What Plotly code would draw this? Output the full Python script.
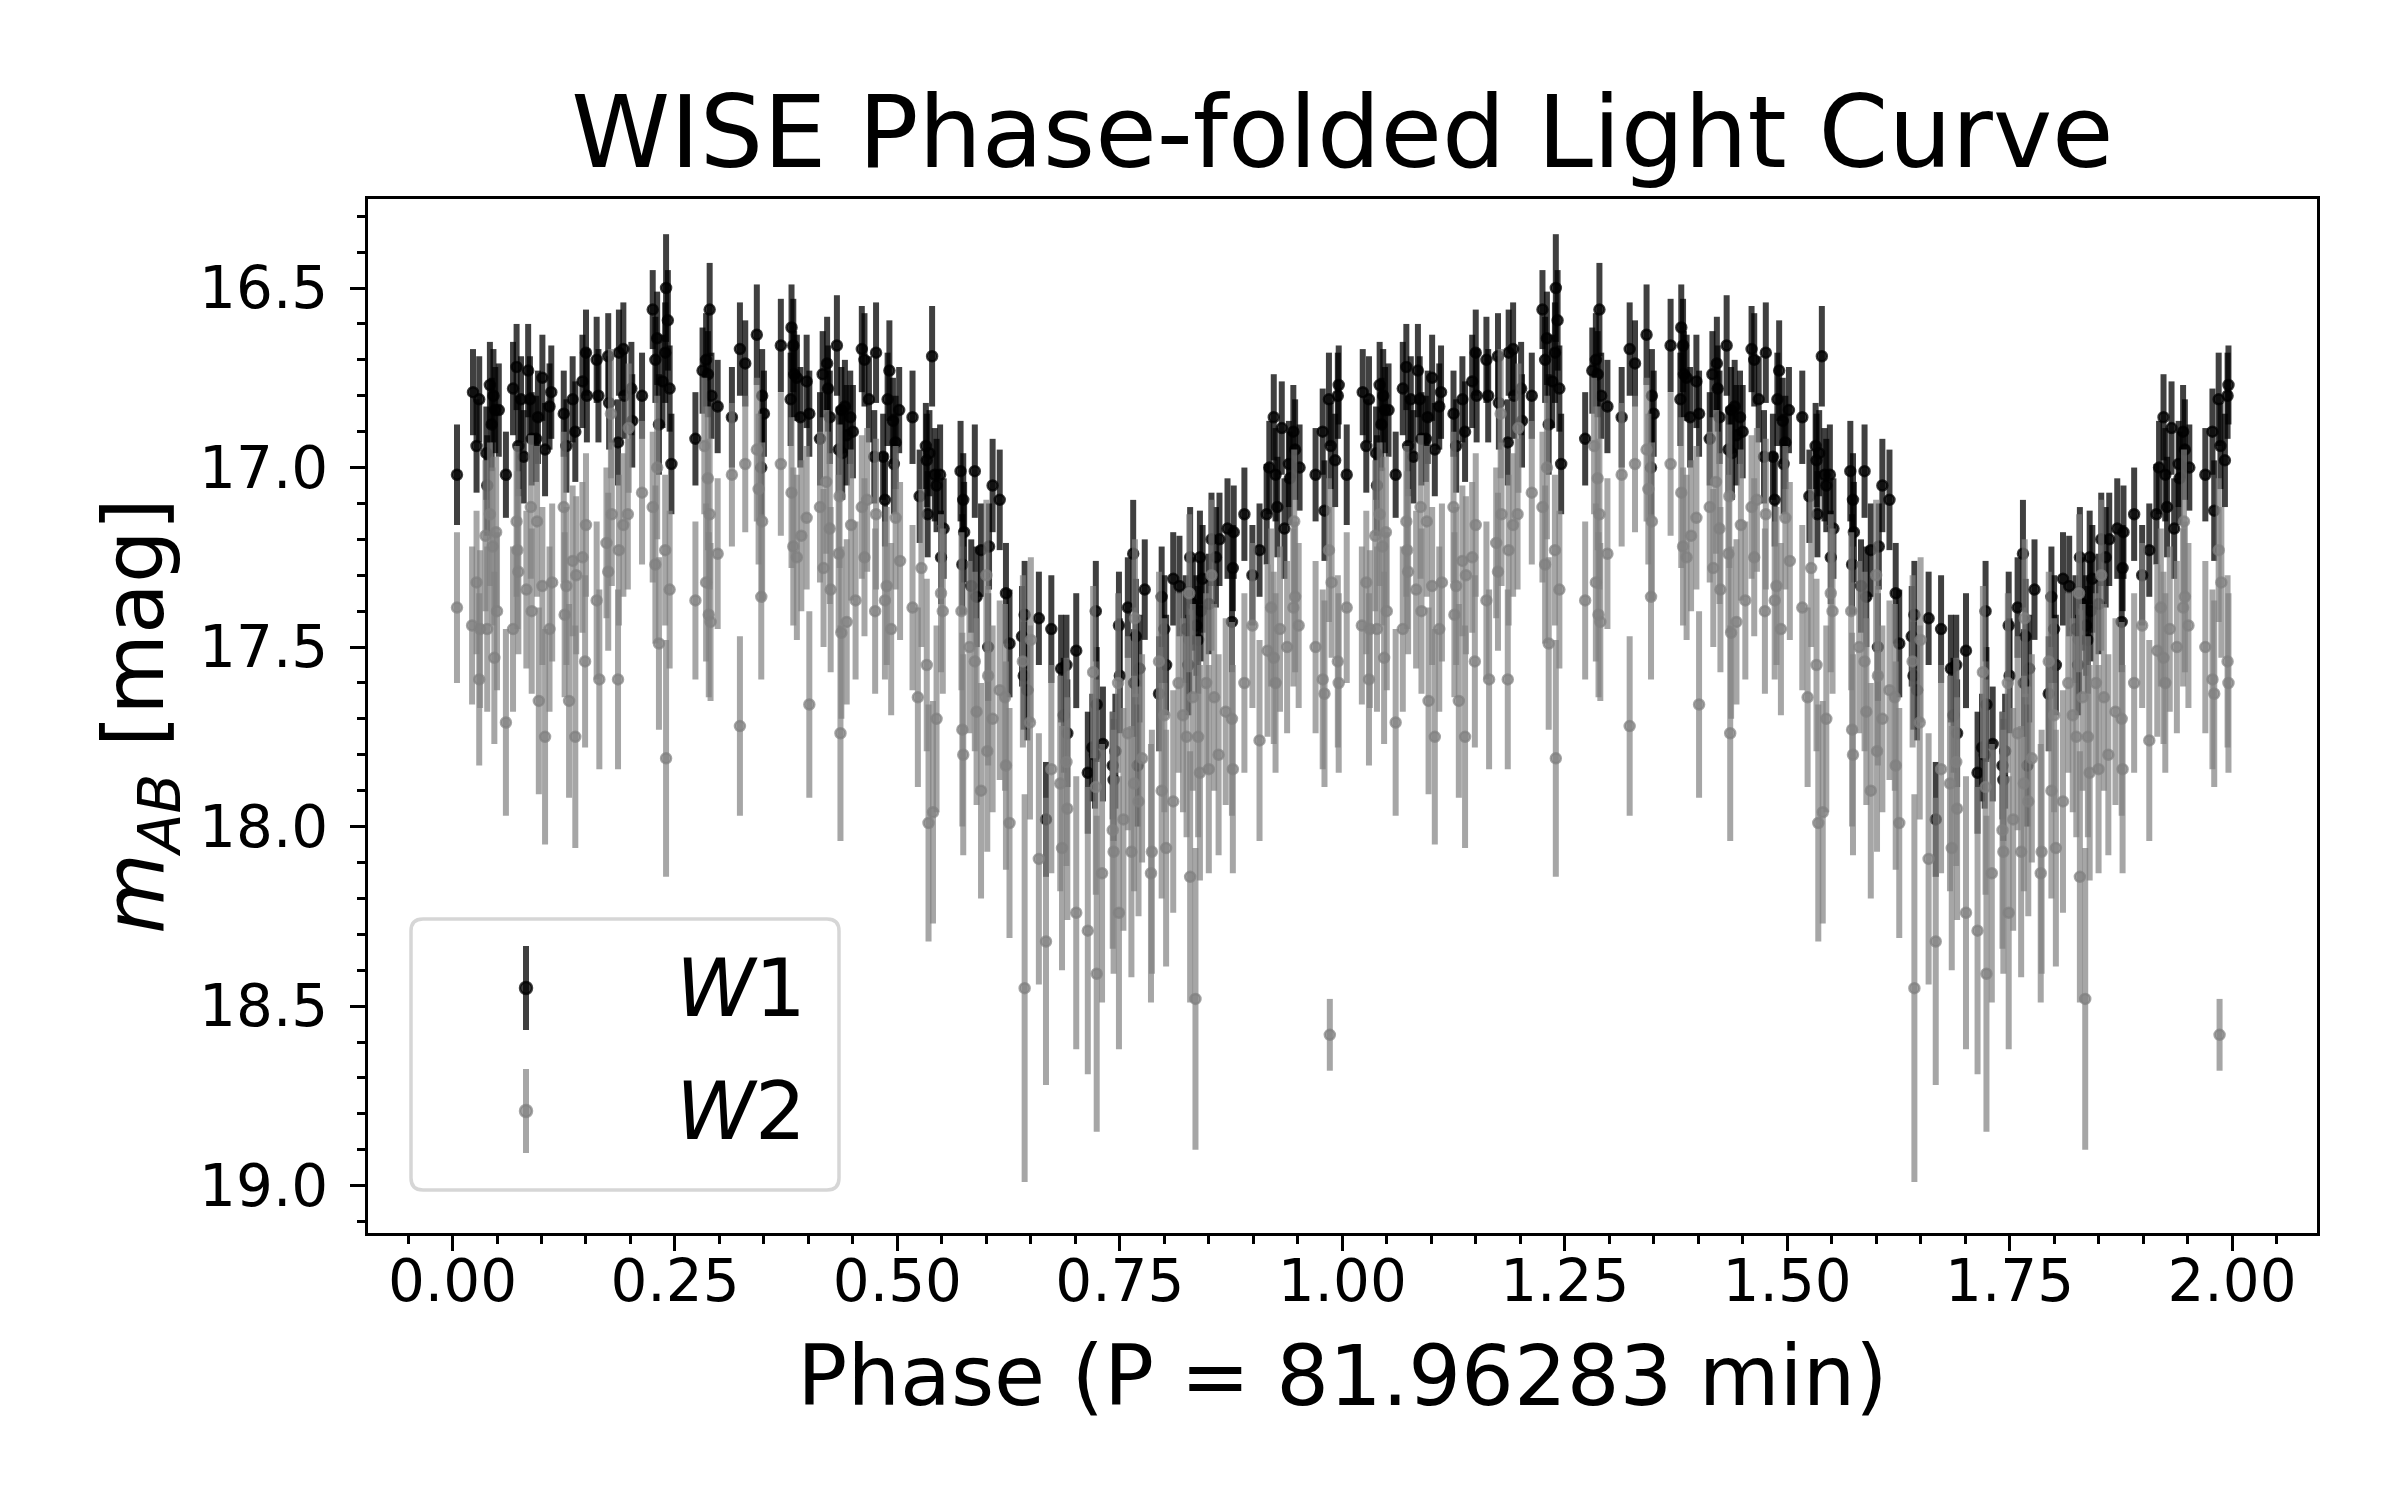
import plotly.graph_objects as go

# phase-folded WISE photometry, one period; the chart repeats it at phase + 1
W1_PHASE = [
    0.005, 0.023, 0.027, 0.030, 0.038, 0.039, 0.042, 0.046, 0.048, 0.052,
    0.044, 0.060, 0.068, 0.072, 0.074, 0.080, 0.077, 0.085, 0.087, 0.089,
    0.096, 0.094, 0.101, 0.104, 0.109, 0.111, 0.125, 0.128, 0.135, 0.138,
    0.146, 0.150, 0.151, 0.162, 0.164, 0.175, 0.176, 0.186, 0.187, 0.192,
    0.193, 0.201, 0.202, 0.213, 0.225, 0.228, 0.230, 0.232, 0.240, 0.242,
    0.236, 0.244, 0.239, 0.246, 0.273, 0.281, 0.289, 0.287, 0.285, 0.291,
    0.298, 0.314, 0.323, 0.329, 0.342, 0.348, 0.350, 0.347, 0.369, 0.381,
    0.383, 0.384, 0.380, 0.387, 0.398, 0.391, 0.401, 0.413, 0.416, 0.421,
    0.422, 0.424, 0.432, 0.437, 0.441, 0.447, 0.443, 0.434, 0.438, 0.450,
    0.460, 0.463, 0.468, 0.476, 0.474, 0.484, 0.486, 0.491, 0.489, 0.495,
    0.498, 0.502, 0.496, 0.517, 0.539, 0.532, 0.533, 0.536, 0.542,
    0.544, 0.548, 0.525, 0.534, 0.552, 0.549, 0.571, 0.574, 0.575, 0.587,
    0.573, 0.583, 0.589, 0.594, 0.603, 0.607, 0.615, 0.602, 0.622, 0.626,
    0.643, 0.640, 0.642, 0.646, 0.659, 0.673, 0.667, 0.684, 0.690, 0.687,
    0.691, 0.701, 0.714, 0.719, 0.723, 0.724, 0.722, 0.731, 0.742, 0.743,
    0.745, 0.749, 0.759, 0.765, 0.768, 0.766, 0.770, 0.778, 0.772, 0.750,
    0.797, 0.800, 0.802, 0.794, 0.810, 0.817, 0.824, 0.827, 0.828,
    0.829, 0.832, 0.836, 0.838, 0.840, 0.841, 0.843, 0.850, 0.853, 0.858,
    0.862, 0.871, 0.878, 0.877, 0.876, 0.890, 0.899, 0.907, 0.915, 0.918,
    0.923, 0.925, 0.927, 0.932, 0.935, 0.940, 0.945, 0.947, 0.941, 0.952,
    0.970, 0.978, 0.980, 0.985, 0.987, 0.992, 0.995, 0.996,
]
W1_MAG = [
    17.02, 16.79, 16.94, 16.81, 16.96, 17.05, 16.77, 16.80, 16.84, 16.84,
    16.88, 17.02, 16.78, 16.72, 16.94, 16.97, 16.81, 16.73, 16.81, 16.92,
    16.86, 16.92, 16.75, 16.95, 16.83, 16.79, 16.85, 16.94, 16.81, 16.90,
    16.76, 16.68, 16.80, 16.70, 16.80, 16.69, 16.82, 16.93, 16.68, 16.67,
    16.80, 16.78, 16.87, 16.80, 16.56, 16.70, 16.64, 16.88, 16.50, 16.59,
    16.76, 16.78, 16.68, 16.99, 16.92, 16.73, 16.56, 16.74, 16.70, 16.80,
    16.83, 16.86, 16.67, 16.71, 16.63, 16.80, 16.85, 17.00, 16.66, 16.61,
    16.66, 16.74, 16.81, 16.75, 16.76, 16.86, 16.85, 16.92, 16.74, 16.71,
    16.78, 16.86, 16.66, 16.84, 16.83, 16.86, 16.91, 16.95, 16.96, 16.90,
    16.67, 16.70, 16.81, 16.68, 16.97, 16.97, 17.09, 16.73, 16.81, 16.87,
    16.93, 16.84, 16.99, 16.86, 16.69, 16.94, 16.98, 16.96, 17.02,
    17.05, 17.02, 17.08, 17.13, 17.17, 17.25, 17.01, 17.09, 17.18, 17.01,
    17.27, 17.33, 17.36, 17.23, 17.22, 17.05, 17.09, 17.50, 17.35, 17.49,
    17.41, 17.47, 17.58, 17.62, 17.42, 17.45, 17.98, 17.56, 17.55, 17.69,
    17.74, 17.51, 17.85, 17.78, 17.40, 17.66, 17.80, 17.77, 17.83, 17.87,
    17.79, 17.44, 17.39, 17.24, 17.47, 17.60, 17.83, 17.34, 17.56, 17.58,
    17.36, 17.45, 17.55, 17.63, 17.31, 17.33, 17.45, 17.55, 17.48,
    17.25, 17.38, 17.44, 17.48, 17.25, 17.40, 17.31, 17.38, 17.20, 17.25,
    17.20, 17.17, 17.18, 17.28, 17.43, 17.13, 17.30, 17.23, 17.13, 17.00,
    16.86, 17.02, 17.11, 16.89, 17.17, 16.99, 16.90, 16.95, 17.03, 17.00,
    17.02, 16.90, 17.12, 16.81, 16.94, 16.98, 16.80, 16.77,
]
W1_ERR = [
    0.14, 0.12, 0.13, 0.12, 0.13, 0.14, 0.12, 0.13, 0.12, 0.13,
    0.13, 0.12, 0.13, 0.12, 0.14, 0.13, 0.12, 0.13, 0.12, 0.13,
    0.13, 0.12, 0.12, 0.13, 0.12, 0.13, 0.12, 0.13, 0.12, 0.14,
    0.13, 0.12, 0.13, 0.12, 0.13, 0.12, 0.13, 0.12, 0.12, 0.13,
    0.12, 0.13, 0.13, 0.12, 0.11, 0.12, 0.13, 0.14, 0.15, 0.14,
    0.13, 0.12, 0.14, 0.14, 0.13, 0.12, 0.13, 0.12, 0.13, 0.12,
    0.13, 0.14, 0.13, 0.12, 0.14, 0.13, 0.12, 0.14, 0.13, 0.12,
    0.13, 0.12, 0.13, 0.12, 0.13, 0.14, 0.12, 0.13, 0.12, 0.13,
    0.12, 0.13, 0.14, 0.12, 0.13, 0.13, 0.14, 0.12, 0.13, 0.13,
    0.12, 0.13, 0.12, 0.14, 0.13, 0.12, 0.13, 0.14, 0.13, 0.12,
    0.13, 0.12, 0.14, 0.13, 0.14, 0.12, 0.13, 0.12, 0.13,
    0.13, 0.14, 0.13, 0.12, 0.14, 0.13, 0.14, 0.13, 0.14, 0.13,
    0.14, 0.13, 0.14, 0.13, 0.12, 0.13, 0.14, 0.15, 0.14, 0.15,
    0.15, 0.14, 0.15, 0.14, 0.13, 0.15, 0.16, 0.15, 0.14, 0.16,
    0.15, 0.16, 0.17, 0.15, 0.14, 0.16, 0.15, 0.16, 0.15, 0.17,
    0.16, 0.15, 0.14, 0.15, 0.16, 0.15, 0.17, 0.14, 0.15, 0.16,
    0.14, 0.15, 0.14, 0.16, 0.13, 0.14, 0.15, 0.14, 0.15,
    0.14, 0.13, 0.14, 0.15, 0.13, 0.14, 0.15, 0.14, 0.13, 0.14,
    0.13, 0.14, 0.13, 0.12, 0.14, 0.13, 0.14, 0.13, 0.14, 0.13,
    0.12, 0.13, 0.14, 0.13, 0.14, 0.12, 0.13, 0.14, 0.13, 0.12,
    0.13, 0.12, 0.14, 0.13, 0.12, 0.13, 0.12, 0.11,
]

W2_PHASE = [
    0.005, 0.022, 0.027, 0.030, 0.031, 0.039, 0.037, 0.042, 0.045, 0.049,
    0.047, 0.050, 0.060, 0.068, 0.072, 0.073, 0.074, 0.083, 0.088, 0.089,
    0.095, 0.097, 0.101, 0.104, 0.109, 0.112, 0.125, 0.126, 0.128, 0.131,
    0.135, 0.138, 0.139, 0.146, 0.149, 0.150, 0.162, 0.165, 0.173, 0.175,
    0.179, 0.186, 0.187, 0.192, 0.197, 0.198, 0.178, 0.213, 0.225, 0.228,
    0.230, 0.232, 0.240, 0.244, 0.239, 0.273, 0.283, 0.287, 0.289, 0.285,
    0.288, 0.290, 0.298, 0.314, 0.323, 0.329, 0.342, 0.344, 0.348, 0.347,
    0.369, 0.381, 0.383, 0.387, 0.392, 0.398, 0.401, 0.413, 0.417, 0.420,
    0.424, 0.425, 0.435, 0.434, 0.437, 0.436, 0.443, 0.448, 0.453, 0.460,
    0.463, 0.466, 0.476, 0.475, 0.486, 0.488, 0.493, 0.498, 0.503, 0.517,
    0.527, 0.523, 0.533, 0.535, 0.540, 0.544, 0.549, 0.551, 0.572, 0.573,
    0.574, 0.581, 0.587, 0.589, 0.594, 0.600, 0.602, 0.601, 0.607, 0.615,
    0.621, 0.622, 0.626, 0.643, 0.641, 0.650, 0.649, 0.659, 0.667, 0.673,
    0.683, 0.685, 0.690, 0.691, 0.701, 0.714, 0.720, 0.723, 0.724, 0.730,
    0.742, 0.743, 0.749, 0.754, 0.759, 0.763, 0.766, 0.771, 0.775, 0.785,
    0.786, 0.748, 0.767, 0.794, 0.800, 0.797, 0.802, 0.810, 0.816, 0.821,
    0.825, 0.828, 0.829, 0.832, 0.835, 0.838, 0.840, 0.847, 0.850, 0.853,
    0.856, 0.861, 0.869, 0.876, 0.877, 0.890, 0.899, 0.907, 0.916, 0.920,
    0.923, 0.925, 0.930, 0.938, 0.945, 0.947, 0.951, 0.946, 0.970, 0.978,
    0.980, 0.986, 0.985, 0.988, 0.995, 0.996,
]
W2_MAG = [
    17.39, 17.44, 17.32, 17.59, 17.45, 17.45, 17.19, 17.13, 17.22, 17.18,
    17.53, 17.40, 17.71, 17.45, 17.15, 17.23, 17.29, 17.34, 17.11, 17.40,
    17.15, 17.65, 17.33, 17.75, 17.45, 17.32, 17.11, 17.41, 17.33, 17.65,
    17.26, 17.75, 17.30, 17.25, 17.54, 17.16, 17.37, 17.59, 17.21, 17.29,
    17.13, 17.59, 17.23, 17.16, 17.13, 16.89, 16.85, 17.07, 17.11, 17.27,
    17.00, 17.49, 17.81, 17.34, 17.23, 17.37, 16.94, 17.03, 17.13, 17.32,
    17.41, 17.43, 17.24, 17.02, 17.72, 16.99, 16.95, 17.06, 17.15, 17.36,
    16.99, 17.07, 17.22, 17.25, 17.19, 17.14, 17.66, 17.11, 17.28, 17.04,
    17.17, 17.34, 17.08, 17.24, 17.46, 17.74, 17.43, 17.16, 17.37, 17.11,
    17.25, 17.09, 17.13, 17.40, 17.37, 17.33, 17.45, 17.14, 17.26, 17.39,
    17.28, 17.64, 17.55, 17.99, 17.96, 17.70, 17.35, 17.40, 17.40, 17.73,
    17.80, 17.50, 17.54, 17.68, 17.90, 17.30, 17.58, 17.79, 17.70, 17.62,
    17.64, 17.83, 17.99, 18.45, 17.54, 17.48, 17.71, 18.09, 18.32, 17.84,
    17.88, 18.06, 17.82, 17.95, 18.24, 18.29, 17.57, 17.89, 18.41, 18.13,
    18.01, 18.07, 18.24, 17.98, 17.74, 18.07, 17.88, 17.93, 17.81, 18.13,
    18.07, 17.60, 17.42, 17.54, 17.69, 17.90, 18.06, 17.93, 17.60, 17.69,
    17.75, 17.35, 18.14, 17.64, 18.48, 17.75, 17.85, 17.60, 17.84, 17.30,
    17.64, 17.80, 17.68, 17.70, 17.84, 17.60, 17.44, 17.76, 17.51, 17.39,
    17.53, 17.60, 17.45, 17.50, 17.39, 17.36, 17.44, 17.15, 17.50, 17.59,
    17.63, 18.58, 17.23, 17.32, 17.54, 17.60,
]
W2_ERR = [
    0.21, 0.22, 0.20, 0.24, 0.22, 0.23, 0.21, 0.20, 0.22, 0.21,
    0.24, 0.22, 0.26, 0.23, 0.21, 0.22, 0.23, 0.22, 0.20, 0.23,
    0.21, 0.26, 0.22, 0.30, 0.23, 0.22, 0.21, 0.23, 0.22, 0.27,
    0.21, 0.31, 0.22, 0.21, 0.24, 0.20, 0.22, 0.25, 0.21, 0.22,
    0.20, 0.25, 0.21, 0.20, 0.21, 0.18, 0.18, 0.20, 0.21, 0.22,
    0.20, 0.24, 0.33, 0.22, 0.21, 0.22, 0.19, 0.20, 0.21, 0.22,
    0.23, 0.22, 0.21, 0.20, 0.25, 0.19, 0.20, 0.21, 0.22, 0.23,
    0.20, 0.21, 0.22, 0.23, 0.21, 0.20, 0.26, 0.21, 0.22, 0.20,
    0.21, 0.23, 0.20, 0.22, 0.24, 0.30, 0.23, 0.21, 0.22, 0.20,
    0.22, 0.20, 0.21, 0.23, 0.22, 0.22, 0.24, 0.20, 0.22, 0.23,
    0.22, 0.25, 0.24, 0.33, 0.31, 0.26, 0.22, 0.23, 0.22, 0.27,
    0.28, 0.24, 0.25, 0.26, 0.30, 0.21, 0.25, 0.28, 0.26, 0.25,
    0.26, 0.29, 0.32, 0.54, 0.24, 0.23, 0.27, 0.35, 0.40, 0.29,
    0.30, 0.34, 0.29, 0.31, 0.38, 0.40, 0.24, 0.30, 0.44, 0.36,
    0.33, 0.34, 0.38, 0.31, 0.27, 0.35, 0.30, 0.32, 0.29, 0.36,
    0.34, 0.25, 0.22, 0.25, 0.27, 0.30, 0.33, 0.31, 0.25, 0.27,
    0.28, 0.22, 0.35, 0.26, 0.42, 0.28, 0.30, 0.25, 0.29, 0.21,
    0.26, 0.28, 0.26, 0.27, 0.29, 0.25, 0.23, 0.28, 0.24, 0.22,
    0.24, 0.25, 0.23, 0.24, 0.22, 0.21, 0.23, 0.20, 0.24, 0.25,
    0.26, 0.10, 0.20, 0.21, 0.24, 0.25,
]

PERIOD_MIN = 81.96283
X_TICKS = [0.0, 0.25, 0.5, 0.75, 1.0, 1.25, 1.5, 1.75, 2.0]
Y_TICKS = [16.5, 17.0, 17.5, 18.0, 18.5, 19.0]

FONT = "DejaVu Sans"
INK = "black"
W1_COL = "rgba(0,0,0,0.75)"
W2_COL = "rgba(128,128,128,0.7)"

# plot area in page pixels (matplotlib axes box)
L, R, T, B = 360, 2309, 191, 1225
PW, PH = R - L, B - T


def px_x(x):
    return (x - L) / PW


def px_y(y):
    return (B - y) / PH


def two_cycles(phase, mag, err):
    return phase + [p + 1 for p in phase], mag + mag, err + err


def band_trace(phase, mag, err, color, name):
    x, y, e = two_cycles(phase, mag, err)
    return go.Scatter(
        x=x, y=y, mode="markers", name=name, showlegend=False,
        marker=dict(size=10, color=color, line=dict(color=color, width=2.5)),
        error_y=dict(type="data", array=e, color=color, thickness=6, width=0),
        hovertemplate=name + "<br>phase %{x:.3f}<br>%{y:.2f} mag<extra></extra>",
    )


fig = go.Figure()
fig.add_trace(band_trace(W1_PHASE, W1_MAG, W1_ERR, W1_COL, "W1"))
fig.add_trace(band_trace(W2_PHASE, W2_MAG, W2_ERR, W2_COL, "W2"))

axis_common = dict(
    ticks="outside", ticklen=15, tickwidth=3.3, tickcolor=INK,
    tickfont=dict(family=FONT, size=58, color=INK),
    showline=True, linecolor=INK, linewidth=3.3, mirror=True,
    showgrid=False, zeroline=False,
)

# hand-drawn legend box (matplotlib style, rounded corners)
lx0, ly0, lx1, ly1 = px_x(403), px_y(1182), px_x(831), px_y(911)
rx, ry = 12 / PW, 12 / PH
legend_path = (
    f"M {lx0 + rx},{ly0} L {lx1 - rx},{ly0} Q {lx1},{ly0} {lx1},{ly0 + ry} "
    f"L {lx1},{ly1 - ry} Q {lx1},{ly1} {lx1 - rx},{ly1} "
    f"L {lx0 + rx},{ly1} Q {lx0},{ly1} {lx0},{ly1 - ry} "
    f"L {lx0},{ly0 + ry} Q {lx0},{ly0} {lx0 + rx},{ly0} Z"
)
shapes = [dict(type="path", xref="paper", yref="paper", path=legend_path,
               fillcolor="rgba(255,255,255,0.8)",
               line=dict(color="rgba(204,204,204,0.8)", width=3.5), layer="above")]
annotations = []
for label, color, yc in (("W1", W1_COL, 980), ("W2", W2_COL, 1103)):
    gx = px_x(518)
    shapes.append(dict(type="line", xref="paper", yref="paper", x0=gx, x1=gx,
                       y0=px_y(yc + 42), y1=px_y(yc - 42),
                       line=dict(color=color, width=6), layer="above"))
    shapes.append(dict(type="circle", xref="paper", yref="paper",
                       xsizemode="pixel", ysizemode="pixel",
                       xanchor=gx, yanchor=px_y(yc), x0=-6, x1=6, y0=-6, y1=6,
                       fillcolor=color, line=dict(color=color, width=2.5), layer="above"))
    annotations.append(dict(
        xref="paper", yref="paper", x=px_x(666), y=px_y(yc), xanchor="left", yanchor="middle",
        text=f"<i>{label[0]}</i>{label[1]}", showarrow=False,
        font=dict(family=FONT, size=80, color=INK),
    ))

fig.update_layout(
    width=2400, height=1500,
    margin=dict(l=L, r=2400 - R, t=T, b=1500 - B, autoexpand=False),
    paper_bgcolor="white", plot_bgcolor="white",
    font=dict(family=FONT, color=INK),
    title=dict(text="WISE Phase-folded Light Curve", x=0.5, xref="paper", xanchor="center",
               y=1 - 124 / 1500, yanchor="middle", font=dict(family=FONT, size=100, color=INK)),
    xaxis=dict(
        range=[-0.095, 2.0955], tickmode="array", tickvals=X_TICKS,
        ticktext=[f"{t:.2f}" for t in X_TICKS],
        minor=dict(tick0=0, dtick=0.05, ticks="outside", ticklen=8, tickwidth=2.5,
                   tickcolor=INK, showgrid=False),
        ticklabelstandoff=-20,
        title=dict(text=f"Phase (P = {PERIOD_MIN} min)", standoff=34,
                   font=dict(family=FONT, size=83, color=INK)),
        **axis_common,
    ),
    yaxis=dict(
        range=[19.132, 16.252], tickmode="array", tickvals=Y_TICKS,
        ticktext=[f"{t:.1f}" for t in Y_TICKS],
        minor=dict(tick0=16.0, dtick=0.1, ticks="outside", ticklen=8, tickwidth=2.5,
                   tickcolor=INK, showgrid=False),
        ticklabelstandoff=10,
        title=dict(text="<i>m</i><sub><i>AB</i></sub> [mag]", standoff=9,
                   font=dict(family=FONT, size=83, color=INK)),
        **axis_common,
    ),
    shapes=shapes,
    annotations=annotations,
)

fig.write_html("out.html")
